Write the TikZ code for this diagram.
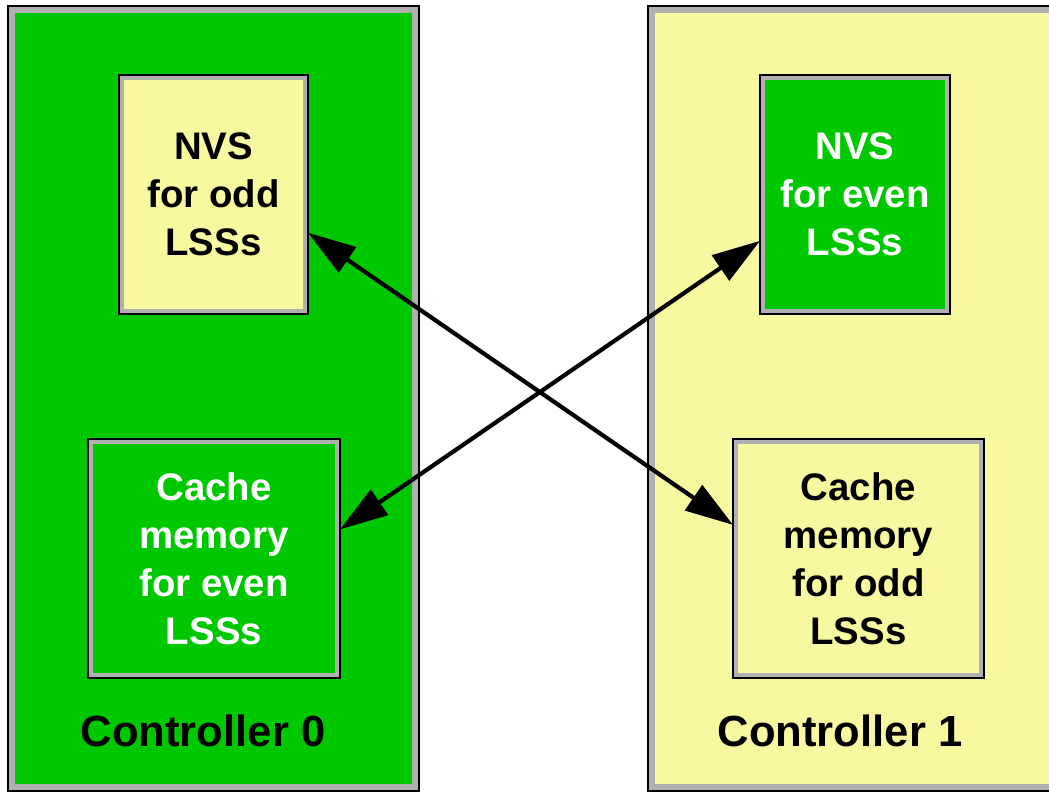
\documentclass[tikz,border=0pt]{standalone}
\usepackage{fontspec}
\setmainfont{Liberation Sans}
\usetikzlibrary{arrows.meta,calc}
\definecolor{cgreen}{RGB}{0,200,0}
\definecolor{cyellow}{RGB}{248,248,160}
\definecolor{cgray}{RGB}{176,176,176}
\tikzset{
  panel/.style={draw=black, line width=1pt, fill=cgray, inner sep=0pt, outer sep=0pt,
    path picture={\fill[#1] ($(path picture bounding box.south west)+(3.5pt,3.5pt)$) rectangle ($(path picture bounding box.north east)-(3.5pt,3.5pt)$);}},
  unit/.style={draw=black, line width=1pt, fill=cgray, inner sep=0pt, outer sep=0pt,
    minimum width=#1, minimum height=119.5pt, align=center,
    font=\fontsize{19.2}{24}\selectfont\bfseries},
  ufill/.style={path picture={\fill[#1] ($(path picture bounding box.south west)+(2.3pt,2.3pt)$) rectangle ($(path picture bounding box.north east)-(2.3pt,2.3pt)$);}},
  ctrllabel/.style={font=\fontsize{21.8}{24}\selectfont\bfseries, inner sep=0pt},
  link/.style={line width=2.1pt, {Triangle[length=24pt,width=15pt]}-{Triangle[length=24pt,width=15pt]}}
}
\begin{document}
\begin{tikzpicture}[x=0.5pt,y=-0.5pt]
\useasboundingbox (0,0) rectangle (1049,793);
\clip (0,0) rectangle (1049,793);
% controllers
\node[panel=cgreen, minimum width=205.5pt, minimum height=392.5pt] (ctrl0) at (213,398.5) {};
\node[panel=cyellow, minimum width=206pt, minimum height=392.5pt] (ctrl1) at (854,398.5) {};
\node[ctrllabel] (lab0) at (203,731) {Controller 0};
\node[ctrllabel] (lab1) at (840,731) {Controller 1};
% inner units
\node[unit=94.5pt, ufill=cyellow] (nvsodd) at (213.5,194.5) {NVS\\for odd\\LSSs};
\node[unit=95pt, ufill=cgreen, text=white] (nvseven) at (855,194.5) {NVS\\for even\\LSSs};
\node[unit=126pt, ufill=cgreen, text=white] (cacheeven) at (214,558.5) {Cache\\memory\\for even\\LSSs};
\node[unit=125.5pt, ufill=cyellow] (cacheodd) at (858.5,558.5) {Cache\\memory\\for odd\\LSSs};
% links
\draw[link] (nvsodd.-22) -- (cacheodd.165);
\draw[link] (nvseven.206) -- (cacheeven.13);
\end{tikzpicture}
\end{document}
